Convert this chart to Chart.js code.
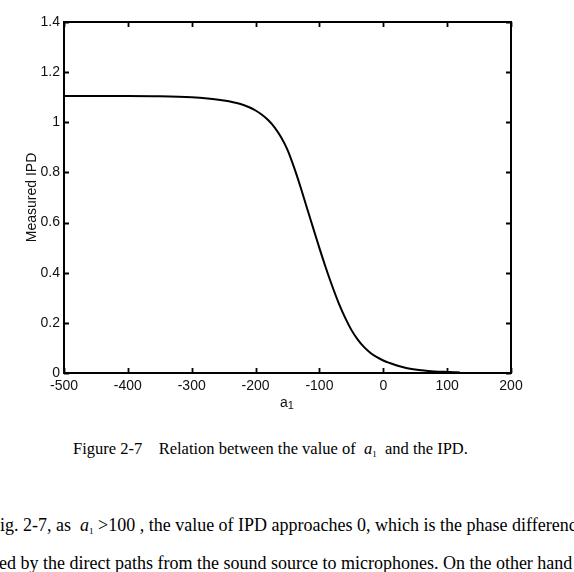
<!DOCTYPE html>
<html>
<head>
<meta charset="utf-8">
<script src="https://cdn.jsdelivr.net/npm/chart.js@4.4.1/dist/chart.umd.min.js"></script>
<style>
  html, body { margin: 0; padding: 0; background: #fff; width: 574px; height: 572px; overflow: hidden; }
  #wrap { position: absolute; left: 0; top: 0; width: 574px; height: 420px; }
  .sans { font-family: "Liberation Sans", Arial, sans-serif; }
  .serif { font-family: "Liberation Serif", "Times New Roman", serif; color: #000; }
  #xtitle { position: absolute; top: 394px; left: 280px; font-size: 14px; color: #111; }
  #xtitle sub { font-size: 11px; position: relative; top: 2px; vertical-align: baseline; }
  #caption { position: absolute; top: 439px; left: 73px; font-size: 16.5px; white-space: pre; }
  .line { position: absolute; white-space: pre; font-size: 18px; }
  .line sub, #caption sub { font-size: 9px; vertical-align: -3px; }
</style>
</head>
<body>
<div id="wrap"><canvas id="c"></canvas></div>
<div id="xtitle" class="sans">a<sub>1</sub></div>
<div id="caption" class="serif">Figure 2-7    Relation between the value of  <i>a</i><sub>1</sub>  and the IPD.</div>
<div class="line serif" style="top:515px; left:-10px;">Fig. 2-7, as  <i>a</i><sub>1</sub> &gt;100 , the value of IPD approaches 0, which is the phase difference</div>
<div class="line serif" style="top:553px; left:-1px;">ed by the direct paths from the sound source to microphones. On the other hand</div>
<script>
// Data
const a1Values = [-500, -450, -400, -350, -300, -275, -250, -225, -210, -200, -190, -180, -170, -160, -150, -140, -130, -120, -110, -100, -90, -80, -70, -60, -50, -40, -30, -20, -10, 0, 10, 20, 30, 40, 50, 60, 70, 80, 90, 100, 110, 120];
const ipdValues = [1.105, 1.105, 1.105, 1.104, 1.100, 1.095, 1.087, 1.074, 1.060, 1.047, 1.030, 1.008, 0.979, 0.940, 0.890, 0.822, 0.745, 0.662, 0.580, 0.498, 0.420, 0.347, 0.280, 0.222, 0.172, 0.133, 0.103, 0.080, 0.063, 0.050, 0.040, 0.031, 0.024, 0.018, 0.014, 0.011, 0.008, 0.006, 0.005, 0.004, 0.003, 0.002];
const xTicks = [-500, -400, -300, -200, -100, 0, 100, 200];
const yTicks = [0, 0.2, 0.4, 0.6, 0.8, 1, 1.2, 1.4];
const yLabel = 'Measured IPD';

const points = a1Values.map((x, i) => ({ x: x, y: ipdValues[i] }));

const frameTicks = {
  id: 'frameTicks',
  afterDraw(chart) {
    const { ctx, chartArea: a, scales } = chart;
    ctx.save();
    ctx.strokeStyle = '#000';
    ctx.lineWidth = 2;
    ctx.strokeRect(a.left, a.top, a.right - a.left, a.bottom - a.top);
    ctx.lineWidth = 1.8;
    const L = 5;
    ctx.beginPath();
    xTicks.forEach(v => {
      const px = Math.round(scales.x.getPixelForValue(v)) + 0.5;
      ctx.moveTo(px, a.bottom); ctx.lineTo(px, a.bottom - L);
      ctx.moveTo(px, a.top); ctx.lineTo(px, a.top + L);
    });
    yTicks.forEach(v => {
      const py = Math.round(scales.y.getPixelForValue(v)) + 0.5;
      ctx.moveTo(a.left, py); ctx.lineTo(a.left + L, py);
      ctx.moveTo(a.right, py); ctx.lineTo(a.right - L, py);
    });
    ctx.stroke();
    // y-axis title
    ctx.fillStyle = '#111';
    ctx.font = '14px "Liberation Sans", Arial, sans-serif';
    ctx.textAlign = 'center';
    ctx.textBaseline = 'middle';
    ctx.translate(32, (a.top + a.bottom) / 2);
    ctx.rotate(-Math.PI / 2);
    ctx.fillText(yLabel, 0, 0);
    ctx.restore();
  }
};

new Chart(document.getElementById('c'), {
  type: 'line',
  data: {
    datasets: [{
      data: points,
      borderColor: '#000',
      borderWidth: 2,
      pointRadius: 0,
      fill: false,
      cubicInterpolationMode: 'monotone'
    }]
  },
  options: {
    responsive: true,
    maintainAspectRatio: false,
    animation: false,
    events: [],
    layout: { padding: { left: 0, top: 22, right: 63, bottom: 0 } },
    plugins: { legend: { display: false }, tooltip: { enabled: false } },
    scales: {
      x: {
        type: 'linear',
        min: -500, max: 200,
        afterBuildTicks(s) { s.ticks = xTicks.map(v => ({ value: v })); },
        afterFit(s) { s.height = 47; },
        grid: { display: false, drawTicks: false },
        border: { display: false },
        ticks: {
          color: '#111', padding: 5,
          font: { family: '"Liberation Sans", Arial, sans-serif', size: 14 },
          maxRotation: 0, autoSkip: false,
          callback: v => String(v)
        }
      },
      y: {
        type: 'linear',
        min: 0, max: 1.4,
        afterBuildTicks(s) { s.ticks = yTicks.map(v => ({ value: v })); },
        afterFit(s) { s.width = 64; },
        grid: { display: false, drawTicks: false },
        border: { display: false },
        ticks: {
          color: '#111', padding: 4,
          font: { family: '"Liberation Sans", Arial, sans-serif', size: 14 },
          autoSkip: false,
          callback: v => String(Number(v.toFixed(1)))
        }
      }
    }
  },
  plugins: [frameTicks]
});
</script>
</body>
</html>
